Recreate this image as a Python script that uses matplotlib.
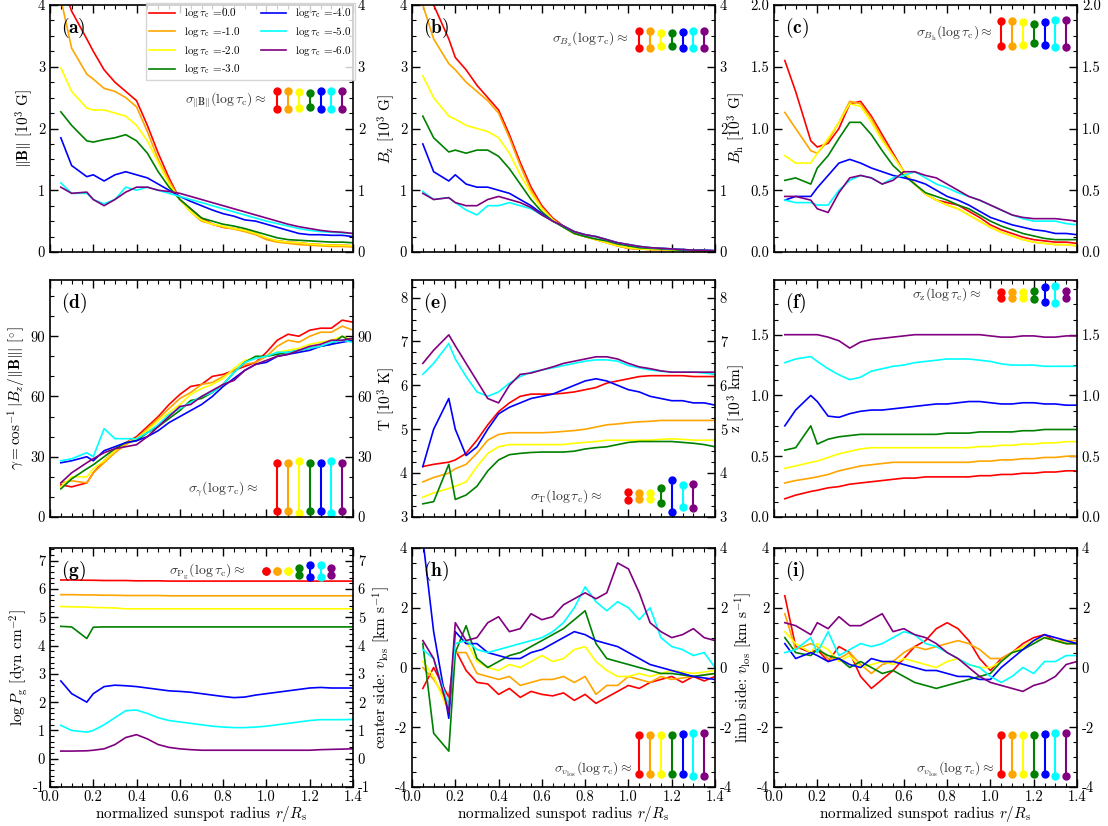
import numpy as np
import matplotlib.pyplot as plt
from matplotlib.ticker import MultipleLocator

plt.rcParams['font.family'] = ['cmr10', 'DejaVu Serif']
plt.rcParams['mathtext.fontset'] = 'cm'
plt.rcParams['axes.formatter.use_mathtext'] = True
plt.rcParams['font.size'] = 10.5

# normalized radius grid
r = [0.05, 0.10, 0.17, 0.20, 0.25, 0.30, 0.35, 0.40, 0.45, 0.50, 0.55, 0.60, 0.65, 0.70,
     0.75, 0.80, 0.85, 0.90, 0.95, 1.00, 1.05, 1.10, 1.15, 1.20, 1.25, 1.30, 1.35, 1.40]
tau_labels = ['0.0', '-1.0', '-2.0', '-3.0', '-4.0', '-5.0', '-6.0']
colors = ['red', 'orange', 'yellow', 'green', 'blue', 'cyan', 'purple']

B_tot = [
    [4.4, 3.9, 3.45, 3.25, 2.95, 2.75, 2.6, 2.45, 2.05, 1.6, 1.2, 0.85, 0.7, 0.55, 0.45, 0.4, 0.38, 0.35, 0.3, 0.22, 0.18, 0.16, 0.15, 0.13, 0.12, 0.11, 0.11, 0.1],
    [4.1, 3.3, 2.88, 2.8, 2.65, 2.6, 2.5, 2.35, 1.95, 1.5, 1.15, 0.85, 0.65, 0.5, 0.45, 0.4, 0.37, 0.33, 0.28, 0.2, 0.16, 0.14, 0.12, 0.11, 0.1, 0.09, 0.09, 0.08],
    [2.98, 2.6, 2.33, 2.3, 2.3, 2.25, 2.2, 2.05, 1.8, 1.45, 1.1, 0.85, 0.65, 0.52, 0.45, 0.42, 0.38, 0.35, 0.3, 0.23, 0.18, 0.16, 0.15, 0.13, 0.12, 0.11, 0.11, 0.1],
    [2.27, 2.05, 1.8, 1.78, 1.82, 1.85, 1.9, 1.8, 1.6, 1.3, 1.05, 0.85, 0.7, 0.55, 0.5, 0.45, 0.42, 0.38, 0.33, 0.28, 0.23, 0.2, 0.19, 0.18, 0.17, 0.16, 0.16, 0.15],
    [1.85, 1.4, 1.22, 1.25, 1.15, 1.25, 1.3, 1.25, 1.2, 1.1, 1.0, 0.9, 0.82, 0.75, 0.68, 0.62, 0.58, 0.52, 0.5, 0.45, 0.4, 0.35, 0.3, 0.28, 0.28, 0.27, 0.27, 0.25],
    [1.12, 0.95, 0.95, 0.85, 0.78, 0.85, 1.05, 1.0, 1.05, 1.0, 0.95, 0.9, 0.85, 0.8, 0.75, 0.7, 0.65, 0.6, 0.55, 0.5, 0.46, 0.42, 0.38, 0.35, 0.33, 0.32, 0.31, 0.3],
    [1.05, 0.95, 0.97, 0.85, 0.75, 0.85, 0.97, 1.05, 1.05, 1.0, 0.98, 0.95, 0.9, 0.85, 0.8, 0.75, 0.7, 0.65, 0.6, 0.55, 0.5, 0.45, 0.41, 0.38, 0.35, 0.33, 0.32, 0.3],
]
B_z = [
    [4.3, 4.0, 3.45, 3.15, 2.95, 2.7, 2.5, 2.3, 1.9, 1.45, 1.05, 0.75, 0.55, 0.42, 0.3, 0.25, 0.2, 0.15, 0.1, 0.06, 0.05, 0.04, 0.04, 0.03, 0.03, 0.02, 0.02, 0.01],
    [4.0, 3.45, 3.05, 2.95, 2.75, 2.6, 2.45, 2.25, 1.85, 1.4, 1.0, 0.72, 0.53, 0.4, 0.3, 0.25, 0.2, 0.15, 0.1, 0.06, 0.05, 0.04, 0.04, 0.03, 0.03, 0.02, 0.02, 0.01],
    [2.85, 2.5, 2.2, 2.15, 2.05, 2.0, 1.95, 1.85, 1.6, 1.25, 0.95, 0.7, 0.52, 0.4, 0.3, 0.25, 0.2, 0.15, 0.1, 0.07, 0.05, 0.04, 0.04, 0.03, 0.03, 0.02, 0.02, 0.01],
    [2.2, 1.85, 1.62, 1.65, 1.6, 1.65, 1.65, 1.55, 1.35, 1.1, 0.85, 0.65, 0.5, 0.4, 0.3, 0.25, 0.21, 0.18, 0.13, 0.1, 0.07, 0.06, 0.05, 0.04, 0.03, 0.03, 0.02, 0.02],
    [1.75, 1.3, 1.15, 1.25, 1.1, 1.05, 1.05, 1.0, 0.95, 0.85, 0.75, 0.62, 0.5, 0.42, 0.33, 0.28, 0.25, 0.2, 0.15, 0.12, 0.09, 0.07, 0.06, 0.05, 0.04, 0.03, 0.03, 0.02],
    [0.98, 0.85, 0.88, 0.8, 0.68, 0.6, 0.75, 0.75, 0.8, 0.75, 0.7, 0.6, 0.5, 0.42, 0.33, 0.28, 0.25, 0.2, 0.15, 0.12, 0.09, 0.07, 0.06, 0.05, 0.04, 0.03, 0.03, 0.02],
    [0.95, 0.85, 0.88, 0.8, 0.75, 0.75, 0.85, 0.9, 0.85, 0.8, 0.72, 0.6, 0.5, 0.42, 0.33, 0.28, 0.25, 0.2, 0.15, 0.12, 0.09, 0.07, 0.06, 0.05, 0.04, 0.03, 0.03, 0.02],
]
B_h = [
    [1.55, 1.3, 0.9, 0.85, 0.88, 1.0, 1.2, 1.22, 1.1, 0.95, 0.8, 0.65, 0.55, 0.47, 0.42, 0.4, 0.38, 0.33, 0.28, 0.22, 0.18, 0.15, 0.12, 0.1, 0.09, 0.08, 0.08, 0.07],
    [1.13, 1.0, 0.82, 0.8, 0.9, 1.05, 1.22, 1.2, 1.08, 0.92, 0.78, 0.65, 0.55, 0.47, 0.42, 0.38, 0.35, 0.3, 0.25, 0.2, 0.16, 0.13, 0.1, 0.08, 0.07, 0.06, 0.06, 0.05],
    [0.78, 0.72, 0.72, 0.8, 0.92, 1.05, 1.2, 1.18, 1.05, 0.9, 0.78, 0.65, 0.55, 0.47, 0.42, 0.38, 0.35, 0.3, 0.25, 0.2, 0.16, 0.13, 0.1, 0.08, 0.07, 0.06, 0.06, 0.05],
    [0.58, 0.6, 0.55, 0.68, 0.78, 0.92, 1.05, 1.05, 0.95, 0.82, 0.7, 0.62, 0.55, 0.48, 0.45, 0.42, 0.38, 0.35, 0.3, 0.25, 0.21, 0.18, 0.15, 0.13, 0.11, 0.1, 0.1, 0.1],
    [0.42, 0.45, 0.45, 0.52, 0.62, 0.72, 0.75, 0.72, 0.68, 0.65, 0.62, 0.6, 0.58, 0.55, 0.5, 0.45, 0.42, 0.38, 0.33, 0.28, 0.25, 0.22, 0.2, 0.18, 0.17, 0.15, 0.15, 0.14],
    [0.42, 0.4, 0.4, 0.38, 0.38, 0.5, 0.58, 0.62, 0.6, 0.55, 0.6, 0.62, 0.65, 0.6, 0.55, 0.52, 0.48, 0.45, 0.42, 0.38, 0.34, 0.3, 0.27, 0.25, 0.25, 0.25, 0.23, 0.22],
    [0.45, 0.45, 0.42, 0.35, 0.32, 0.48, 0.6, 0.62, 0.6, 0.55, 0.58, 0.65, 0.65, 0.62, 0.6, 0.55, 0.5, 0.45, 0.42, 0.38, 0.34, 0.3, 0.28, 0.27, 0.27, 0.27, 0.26, 0.25],
]
gamma = [
    [16, 15, 17, 22, 28, 33, 37, 40, 45, 50, 56, 61, 65, 66, 70, 71, 73, 75, 77, 82, 88, 91, 90, 93, 94, 94, 98, 97],
    [17, 18, 17, 22, 27, 32, 36, 39, 44, 49, 54, 59, 62, 66, 67, 70, 73, 76, 77, 80, 85, 88, 87, 90, 92, 92, 95, 93],
    [15, 20, 20, 24, 28, 33, 37, 39, 43, 48, 52, 56, 61, 64, 66, 69, 74, 78, 79, 80, 82, 83, 84, 86, 87, 88, 90, 88],
    [14, 19, 24, 26, 30, 34, 37, 38, 42, 45, 49, 53, 58, 59, 62, 66, 72, 77, 80, 80, 81, 82, 83, 84, 85, 86, 90, 87],
    [27, 28, 30, 28, 33, 35, 37, 38, 40, 43, 47, 50, 53, 56, 60, 65, 69, 73, 76, 77, 80, 81, 82, 83, 85, 86, 87, 88],
    [28, 29, 32, 30, 44, 39, 39, 39, 42, 46, 51, 54, 57, 60, 62, 66, 72, 77, 79, 80, 82, 82, 83, 84, 85, 87, 88, 87],
    [17, 22, 27, 29, 32, 34, 35, 36, 40, 45, 50, 55, 56, 60, 63, 66, 68, 73, 76, 78, 80, 81, 83, 85, 86, 88, 88, 89],
]
temp = [
    [4.15, 4.2, 4.25, 4.3, 4.45, 4.75, 5.1, 5.4, 5.6, 5.75, 5.8, 5.8, 5.8, 5.82, 5.85, 5.9, 5.95, 6.05, 6.1, 6.15, 6.2, 6.22, 6.22, 6.22, 6.22, 6.2, 6.2, 6.2],
    [3.8, 3.9, 4.0, 4.1, 4.2, 4.45, 4.75, 4.88, 4.92, 4.92, 4.92, 4.92, 4.93, 4.95, 4.97, 5.0, 5.05, 5.1, 5.12, 5.15, 5.17, 5.18, 5.2, 5.2, 5.2, 5.2, 5.2, 5.2],
    [3.45, 3.55, 3.65, 3.7, 3.8, 4.15, 4.45, 4.6, 4.65, 4.65, 4.65, 4.65, 4.65, 4.65, 4.68, 4.7, 4.72, 4.75, 4.75, 4.75, 4.75, 4.75, 4.77, 4.78, 4.77, 4.75, 4.75, 4.75],
    [3.3, 3.35, 4.2, 3.4, 3.5, 3.7, 4.05, 4.3, 4.42, 4.45, 4.47, 4.48, 4.48, 4.48, 4.5, 4.55, 4.58, 4.6, 4.65, 4.7, 4.72, 4.72, 4.72, 4.72, 4.7, 4.68, 4.65, 4.6],
    [4.15, 5.0, 5.7, 5.0, 4.4, 4.6, 5.0, 5.35, 5.5, 5.6, 5.7, 5.75, 5.8, 5.9, 6.0, 6.1, 6.15, 6.1, 6.0, 5.9, 5.85, 5.75, 5.7, 5.65, 5.65, 5.6, 5.6, 5.55],
    [6.25, 6.5, 6.95, 6.6, 6.2, 5.85, 5.75, 5.85, 6.05, 6.2, 6.3, 6.35, 6.4, 6.45, 6.5, 6.55, 6.58, 6.58, 6.55, 6.45, 6.4, 6.35, 6.32, 6.3, 6.3, 6.3, 6.28, 6.25],
    [6.5, 6.8, 7.15, 6.9, 6.5, 6.1, 5.7, 5.6, 6.0, 6.25, 6.28, 6.35, 6.42, 6.5, 6.55, 6.6, 6.65, 6.65, 6.6, 6.5, 6.42, 6.38, 6.33, 6.3, 6.3, 6.3, 6.3, 6.3],
]
height = [
    [0.15, 0.18, 0.21, 0.22, 0.24, 0.25, 0.27, 0.28, 0.29, 0.3, 0.31, 0.32, 0.32, 0.33, 0.33, 0.33, 0.33, 0.33, 0.34, 0.34, 0.35, 0.35, 0.36, 0.36, 0.37, 0.37, 0.38, 0.38],
    [0.28, 0.3, 0.32, 0.33, 0.35, 0.38, 0.4, 0.42, 0.43, 0.44, 0.45, 0.45, 0.45, 0.45, 0.45, 0.45, 0.45, 0.45, 0.46, 0.46, 0.47, 0.47, 0.48, 0.48, 0.49, 0.49, 0.5, 0.5],
    [0.4, 0.42, 0.45, 0.46, 0.49, 0.52, 0.54, 0.56, 0.57, 0.57, 0.57, 0.57, 0.57, 0.57, 0.57, 0.57, 0.57, 0.57, 0.58, 0.58, 0.59, 0.59, 0.6, 0.6, 0.61, 0.61, 0.62, 0.62],
    [0.55, 0.57, 0.75, 0.6, 0.64, 0.66, 0.67, 0.68, 0.68, 0.68, 0.68, 0.68, 0.68, 0.68, 0.68, 0.69, 0.69, 0.69, 0.7, 0.7, 0.7, 0.7, 0.71, 0.71, 0.72, 0.72, 0.72, 0.72],
    [0.75, 0.88, 1.0, 0.95, 0.83, 0.82, 0.85, 0.87, 0.88, 0.88, 0.89, 0.9, 0.91, 0.92, 0.93, 0.93, 0.94, 0.95, 0.95, 0.94, 0.93, 0.93, 0.94, 0.94, 0.93, 0.93, 0.92, 0.92],
    [1.27, 1.3, 1.32, 1.28, 1.22, 1.17, 1.13, 1.15, 1.2, 1.22, 1.24, 1.25, 1.27, 1.28, 1.29, 1.3, 1.3, 1.3, 1.29, 1.28, 1.26, 1.25, 1.25, 1.25, 1.24, 1.24, 1.24, 1.24],
    [1.5, 1.5, 1.5, 1.5, 1.48, 1.45, 1.39, 1.44, 1.46, 1.47, 1.48, 1.49, 1.5, 1.5, 1.5, 1.5, 1.5, 1.5, 1.5, 1.49, 1.48, 1.48, 1.49, 1.49, 1.48, 1.48, 1.49, 1.49],
]
log_pg = [
    [6.32, 6.32, 6.31, 6.31, 6.3, 6.3, 6.3, 6.29, 6.29, 6.29, 6.28, 6.28, 6.28, 6.28, 6.28, 6.28, 6.28, 6.28, 6.28, 6.28, 6.28, 6.28, 6.28, 6.28, 6.28, 6.28, 6.28, 6.28],
    [5.8, 5.8, 5.79, 5.79, 5.78, 5.78, 5.77, 5.77, 5.77, 5.77, 5.76, 5.76, 5.76, 5.76, 5.76, 5.76, 5.76, 5.76, 5.76, 5.76, 5.76, 5.76, 5.76, 5.76, 5.76, 5.76, 5.76, 5.76],
    [5.38, 5.37, 5.36, 5.35, 5.34, 5.33, 5.3, 5.3, 5.3, 5.3, 5.3, 5.3, 5.3, 5.3, 5.3, 5.3, 5.3, 5.3, 5.3, 5.3, 5.3, 5.3, 5.3, 5.3, 5.3, 5.3, 5.3, 5.3],
    [4.68, 4.66, 4.25, 4.65, 4.66, 4.66, 4.66, 4.66, 4.66, 4.66, 4.66, 4.66, 4.66, 4.66, 4.66, 4.66, 4.66, 4.66, 4.66, 4.66, 4.66, 4.66, 4.66, 4.66, 4.66, 4.66, 4.66, 4.66],
    [2.75, 2.3, 2.0, 2.3, 2.55, 2.6, 2.58, 2.55, 2.5, 2.45, 2.4, 2.38, 2.35, 2.3, 2.25, 2.2, 2.16, 2.18, 2.25, 2.3, 2.35, 2.4, 2.45, 2.5, 2.52, 2.5, 2.5, 2.5],
    [1.18, 1.0, 0.94, 1.0, 1.2, 1.45, 1.7, 1.72, 1.6, 1.45, 1.35, 1.3, 1.25, 1.2, 1.15, 1.12, 1.1, 1.1, 1.12, 1.15, 1.2, 1.25, 1.3, 1.35, 1.38, 1.38, 1.38, 1.39],
    [0.27, 0.27, 0.28, 0.3, 0.35, 0.5, 0.75, 0.85, 0.7, 0.5, 0.4, 0.35, 0.32, 0.3, 0.3, 0.3, 0.3, 0.3, 0.3, 0.3, 0.3, 0.3, 0.3, 0.3, 0.32, 0.33, 0.34, 0.35],
]
v_center = [
    [-0.7, 0.0, -1.0, 0.6, -0.1, -0.5, -0.55, -0.9, -0.7, -1.0, -0.8, -0.9, -0.95, -0.85, -1.1, -0.9, -1.2, -1.0, -0.8, -0.6, -0.7, -0.5, -0.4, -0.3, -0.5, -0.3, -0.45, -0.3],
    [0.0, -0.4, -1.2, 0.5, 0.5, -0.2, -0.3, -0.4, -0.3, -0.6, -0.5, -0.4, -0.4, -0.3, -0.5, -0.3, -0.9, -0.6, -0.6, -0.3, -0.4, -0.5, -0.3, -0.4, -0.35, -0.3, -0.25, -0.2],
    [0.2, -0.3, -1.5, 0.8, 0.9, 0.2, 0.0, -0.1, 0.1, 0.0, 0.2, 0.4, 0.2, 0.3, 0.6, 0.7, 0.2, -0.1, -0.3, -0.3, -0.2, -0.3, -0.2, -0.1, -0.15, -0.2, -0.15, -0.1],
    [0.8, -2.2, -2.8, 0.5, 1.4, 0.3, 0.0, 0.2, 0.4, 0.5, 0.7, 0.9, 1.1, 1.3, 1.6, 1.9, 0.8, 0.3, 0.2, 0.1, 0.0, -0.1, -0.2, -0.2, -0.25, -0.3, -0.25, -0.2],
    [4.3, 1.2, -1.7, 1.2, 0.8, 0.8, 0.5, 0.4, 0.3, 0.3, 0.5, 0.6, 0.8, 1.0, 1.2, 1.1, 0.9, 0.8, 0.7, 0.5, 0.3, 0.1, 0.0, -0.1, -0.2, -0.3, -0.35, -0.4],
    [0.6, 0.3, -1.3, 0.8, 0.9, 0.6, 0.5, 0.6, 0.7, 0.8, 0.9, 1.0, 1.2, 1.5, 2.0, 2.7, 2.2, 1.9, 2.2, 2.0, 1.6, 2.0, 1.0, 0.7, 0.6, 0.4, 0.5, 0.0],
    [0.9, 0.3, -1.5, 1.5, 0.9, 1.0, 1.5, 1.7, 1.2, 1.3, 1.8, 1.6, 1.7, 2.1, 2.3, 2.5, 2.3, 2.5, 3.5, 3.3, 2.5, 1.5, 1.2, 1.0, 1.1, 1.3, 1.0, 0.9],
]
v_limb = [
    [2.4, 0.7, 0.5, 0.6, 0.2, 0.7, 0.5, -0.3, -0.7, -0.4, -0.1, 0.3, 0.7, 0.9, 1.3, 1.5, 1.3, 0.9, 0.3, -0.1, 0.3, 0.5, 0.8, 1.0, 1.1, 0.9, 0.8, 0.8],
    [1.8, 0.6, 0.8, 0.7, 0.3, 0.3, 0.5, 0.1, -0.2, 0.1, 0.2, 0.5, 0.7, 0.6, 0.7, 0.8, 0.9, 0.8, 0.6, 0.3, 0.3, 0.5, 0.7, 0.9, 1.0, 0.9, 0.9, 0.9],
    [1.2, 0.8, 0.5, 0.8, 0.6, 0.2, 0.4, 0.0, 0.1, 0.2, 0.1, 0.3, 0.2, 0.1, 0.0, 0.2, 0.3, 0.1, 0.0, 0.0, 0.2, 0.5, 0.7, 0.9, 1.0, 0.9, 0.8, 0.8],
    [1.0, 0.5, 0.4, 0.6, 0.4, 0.3, 0.0, 0.2, 0.0, -0.2, -0.1, -0.3, -0.5, -0.6, -0.7, -0.6, -0.5, -0.4, -0.3, -0.2, 0.2, 0.5, 0.6, 0.8, 1.0, 0.9, 0.8, 0.8],
    [0.8, 0.3, 0.5, 0.4, 0.2, 0.3, 0.1, 0.0, 0.3, 0.2, 0.2, 0.1, 0.0, -0.1, -0.1, -0.2, -0.3, -0.3, -0.4, -0.4, 0.0, 0.3, 0.6, 0.9, 1.1, 1.0, 0.9, 0.8],
    [0.5, 0.6, 1.0, 0.5, 1.2, 0.4, 0.6, 0.8, 0.7, 0.8, 1.0, 1.2, 1.1, 0.8, 0.7, 0.5, 0.3, 0.1, 0.0, -0.3, -0.5, -0.3, 0.0, -0.2, 0.2, 0.2, 0.4, 0.4],
    [1.5, 1.4, 1.1, 1.5, 1.3, 1.7, 1.4, 1.4, 1.6, 1.8, 1.2, 1.3, 1.1, 1.0, 0.8, 0.5, 0.3, 0.0, -0.3, -0.5, -0.6, -0.7, -0.8, -0.6, -0.5, -0.3, 0.1, 0.2],
]

# typical uncertainties per optical depth
sig_B = [0.14, 0.14, 0.13, 0.11, 0.14, 0.15, 0.15]
sig_Bz = [0.14, 0.135, 0.11, 0.11, 0.13, 0.14, 0.14]
sig_Bh = [0.1, 0.1, 0.095, 0.08, 0.09, 0.11, 0.11]
sig_gam = [12, 12, 13, 12, 11.8, 13, 12]
sig_T = [0.095, 0.065, 0.065, 0.17, 0.36, 0.25, 0.28]
sig_z = [0.024, 0.024, 0.024, 0.033, 0.061, 0.071, 0.03]
sig_Pg = [0.01, 0.01, 0.01, 0.13, 0.22, 0.22, 0.13]
sig_vc = [0.65, 0.65, 0.65, 0.65, 0.68, 0.72, 0.72]
sig_vl = [0.65, 0.65, 0.65, 0.65, 0.68, 0.72, 0.72]

panels = [
    ('(a)', B_tot, (0, 4), 1, 0.25, r'$\|\mathbf{B}\|$ [$10^3$ G]', '%d',
     sig_B, 1.05, 2.46, 1.0, 2.46, r'$\sigma_{\|\mathbf{B}\|}(\log\tau_{\rm c})\approx$'),
    ('(b)', B_z, (0, 4), 1, 0.25, r'$B_{\rm z}$ [$10^3$ G]', '%d',
     sig_Bz, 1.05, 3.44, 1.0, 3.44, r'$\sigma_{B_{\rm z}}(\log\tau_{\rm c})\approx$'),
    ('(c)', B_h, (0, 2), 0.5, 0.125, r'$B_{\rm h}$ [$10^3$ G]', '%.1f',
     sig_Bh, 1.05, 1.77, 1.01, 1.77, r'$\sigma_{B_{\rm h}}(\log\tau_{\rm c})\approx$'),
    ('(d)', gamma, (0, 118), 30, 10, r'$\gamma=\cos^{-1}|B_z/\|\mathbf{B}\||$ [$^{\circ}$]', '%d',
     sig_gam, 1.05, 15, 0.96, 14, r'$\sigma_{\gamma}(\log\tau_{\rm c})\approx$'),
    ('(e)', temp, (3, 8.4), 1, 0.25, r'T [$10^3$ K]', '%d',
     sig_T, 1.0, 3.48, 0.88, 3.48, r'$\sigma_{\rm T}(\log\tau_{\rm c})\approx$'),
    ('(f)', height, (0, 1.95), 0.5, 0.125, r'z [$10^3$ km]', '%.1f',
     sig_z, 1.05, 1.83, 0.96, 1.83, r'$\sigma_{\rm z}(\log\tau_{\rm c})\approx$'),
    ('(g)', log_pg, (-1, 7.45), 1, 0.2, r'$\log P_{\rm g}$ [dyn cm$^{-2}$]', '%d',
     sig_Pg, 1.0, 6.63, 0.9, 6.63, r'$\sigma_{\rm P_g}(\log\tau_{\rm c})\approx$'),
    ('(h)', v_center, (-4, 4), 2, 0.5, r'center side: $v_{\rm los}$ [km s$^{-1}$]', '%d',
     sig_vc, 1.05, -2.9, 1.02, -3.4, r'$\sigma_{v_{\rm los}}(\log\tau_{\rm c})\approx$'),
    ('(i)', v_limb, (-4, 4), 2, 0.5, r'limb side: $v_{\rm los}$ [km s$^{-1}$]', '%d',
     sig_vl, 1.05, -2.9, 1.02, -3.4, r'$\sigma_{v_{\rm los}}(\log\tau_{\rm c})\approx$'),
]

W, H = 1108, 826
fig = plt.figure(figsize=(W / 100, H / 100), dpi=100)
lefts = [50, 412, 774]
rows = [(5, 252), (280, 517), (548, 787)]

for k, (tag, data, ylim, major, minor, ylabel, fmt,
        sig, gx, gy, tx, ty, stext) in enumerate(panels):
    row, col = divmod(k, 3)
    top, bot = rows[row]
    ax = fig.add_axes([lefts[col] / W, 1 - bot / H, 303 / W, (bot - top) / H])
    for i in range(7):
        ax.plot(r, data[i], color=colors[i], lw=1.2,
                label=r'$\log\tau_{\rm c}$ =' + tau_labels[i])
    # sigma glyphs
    for i in range(7):
        x = gx + 0.05 * i
        ax.plot([x, x], [gy - sig[i], gy + sig[i]], '-o', color=colors[i],
                lw=1.5, ms=5, clip_on=False)
    ax.text(tx, ty, stext, ha='right', va='center', fontsize=10, color='#333333')
    ax.text(0.035, 0.955, r'$\mathbf{' + tag + '}$', transform=ax.transAxes,
            ha='left', va='top', fontsize=14)

    ax.set_xlim(0, 1.4)
    ax.set_ylim(*ylim)
    ax.xaxis.set_major_locator(MultipleLocator(0.2))
    ax.xaxis.set_minor_locator(MultipleLocator(0.05))
    ax.yaxis.set_major_locator(MultipleLocator(major))
    ax.yaxis.set_minor_locator(MultipleLocator(minor))
    ax.yaxis.set_major_formatter(plt.FormatStrFormatter(fmt))
    ax.tick_params(which='both', direction='in', top=True, right=True,
                   labelright=True, labelsize=10.5)
    ax.tick_params(which='major', length=6, width=1)
    ax.tick_params(which='minor', length=3, width=0.8)
    ax.tick_params(axis='x', pad=2.5)
    for s in ax.spines.values():
        s.set_linewidth(1.2)
    ax.set_ylabel(ylabel, fontsize=11, labelpad=2)
    if row == 2:
        ax.xaxis.set_major_formatter(plt.FormatStrFormatter('%.1f'))
        ax.set_xlabel(r'normalized sunspot radius $r/R_{\rm s}$', fontsize=11, labelpad=0)
    else:
        ax.tick_params(labelbottom=False)
    if k == 0:
        ax.legend(ncol=2, loc='upper right', bbox_to_anchor=(1.008, 1.01),
                  fontsize=8, frameon=True, fancybox=False, edgecolor='#cccccc',
                  handlelength=2.3, borderaxespad=0, borderpad=0.35,
                  columnspacing=1.8, labelspacing=0.42, handletextpad=0.8)

fig.savefig('out.png', dpi=100)
